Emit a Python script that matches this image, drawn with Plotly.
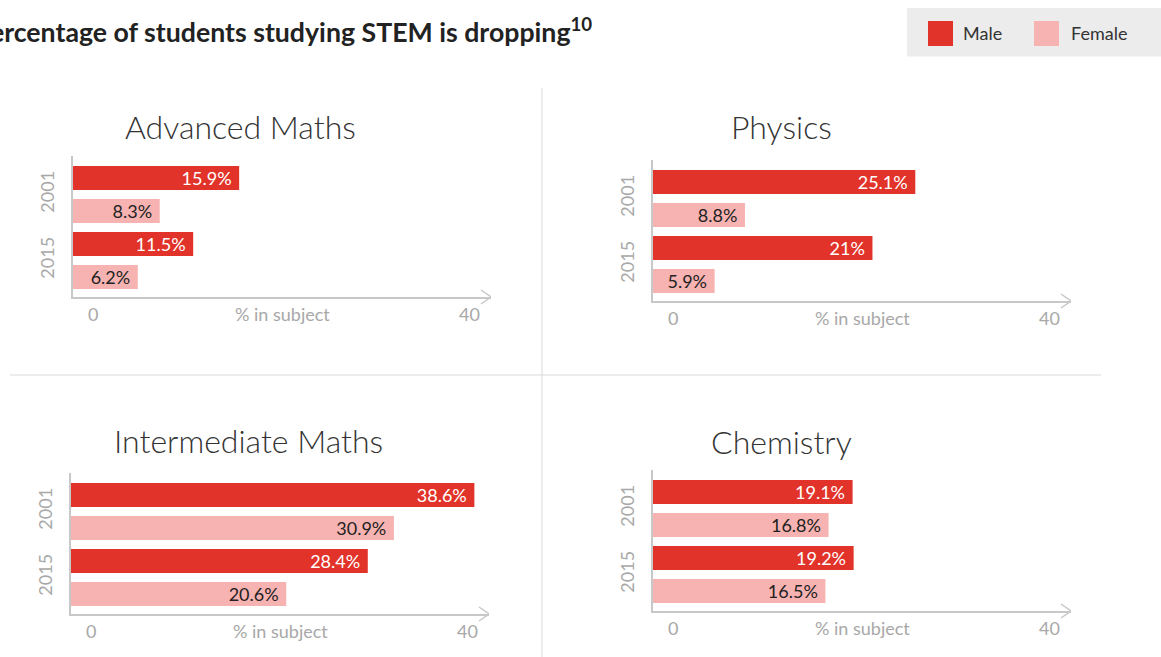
import plotly.graph_objects as go

W, H = 1161, 657

# ---------------- data ----------------
years = ["2001", "2015"]
subjects = ["Advanced Maths", "Physics", "Intermediate Maths", "Chemistry"]
adv_maths_male = [15.9, 11.5]
adv_maths_female = [8.3, 6.2]
physics_male = [25.1, 21]
physics_female = [8.8, 5.9]
int_maths_male = [38.6, 28.4]
int_maths_female = [30.9, 20.6]
chemistry_male = [19.1, 19.2]
chemistry_female = [16.8, 16.5]
x_tick_values = [0, 40]
x_axis_label = "% in subject"
legend_labels = ["Male", "Female"]
title_text = "Percentage of students studying STEM is dropping"
title_note = "10"

male_series = [adv_maths_male, physics_male, int_maths_male, chemistry_male]
female_series = [adv_maths_female, physics_female, int_maths_female, chemistry_female]

# ---------------- style ----------------
MALE = "#e2332a"
FEMALE = "#f7b3b1"
AXIS = "#c8c8c8"
GREY_TXT = "#a8a8a8"
DARK = "#333333"
FONT = "Lato"

# panel placement in pixels: (axis origin x, top of first bar, title cx, title cy)
panels = [
    (73, 166, 240, 127),
    (653, 170, 781, 127),
    (71, 483, 248, 440),
    (653, 480, 781, 441),
]
AXIS_LEN = 418  # px for 0..40


def px(x):
    return x / W


def py(y):
    return 1 - y / H


fig = go.Figure()
annotations = []
shapes = []

for i, (subj, m, f, (x0, btop, tcx, tcy)) in enumerate(
    zip(subjects, male_series, female_series, panels)
):
    n = "" if i == 0 else str(i + 1)
    xa, ya = "x" + n, "y" + n
    fig.add_trace(go.Bar(
        y=years, x=m, orientation="h", name=legend_labels[0],
        marker=dict(color=MALE, line=dict(width=0)),
        text=[f"{v:g}%\u00a0" for v in m], textposition="inside",
        insidetextanchor="end", constraintext="none",
        insidetextfont=dict(family=FONT, size=18, color="white"),
        xaxis=xa, yaxis=ya, showlegend=False, hoverinfo="skip",
    ))
    fig.add_trace(go.Bar(
        y=years, x=f, orientation="h", name=legend_labels[1],
        marker=dict(color=FEMALE, line=dict(width=0)),
        text=[f"{v:g}%\u00a0" for v in f], textposition="inside",
        insidetextanchor="end", constraintext="none",
        insidetextfont=dict(family=FONT, size=18, color="#222222"),
        xaxis=xa, yaxis=ya, showlegend=False, hoverinfo="skip",
    ))
    top = btop - 10
    bot = btop + 131
    xdom = [px(x0), px(x0 + AXIS_LEN)]
    ydom = [py(bot), py(top)]
    fig.update_layout(**{
        ("xaxis" + n): dict(
            domain=xdom, anchor=ya, range=[0, 40], showgrid=False,
            zeroline=False, showline=True, linecolor=AXIS, linewidth=1.5,
            showticklabels=False, ticks="", fixedrange=True,
        ),
        ("yaxis" + n): dict(
            domain=ydom, anchor=xa, type="category", categoryorder="array",
            categoryarray=years, range=[1.553, -0.5833], autorange=False,
            showgrid=False, zeroline=False, showline=True, linecolor=AXIS,
            linewidth=1.5, ticks="", tickangle=-90, ticklabelstandoff=10,
            tickfont=dict(family=FONT, size=18, color=GREY_TXT), fixedrange=True,
        ),
    })
    # arrow head at the end of the x axis
    shapes.append(dict(
        type="path", xref=xa, yref=ya + " domain", xsizemode="pixel",
        ysizemode="pixel", xanchor=40, yanchor=0,
        path="M -10,-7 L 0,0 L -10,7", line=dict(color=AXIS, width=1.5),
    ))
    # x axis tick labels and title
    annotations.append(dict(
        x=x_tick_values[0], y=0, xref=xa, yref=ya + " domain", text=str(x_tick_values[0]),
        showarrow=False, xanchor="center", yanchor="middle", xshift=20, yshift=-17,
        font=dict(family=FONT, size=18, color=GREY_TXT),
    ))
    annotations.append(dict(
        x=x_tick_values[1], y=0, xref=xa, yref=ya + " domain", text=str(x_tick_values[1]),
        showarrow=False, xanchor="center", yanchor="middle", xshift=-22, yshift=-17,
        font=dict(family=FONT, size=18, color=GREY_TXT),
    ))
    annotations.append(dict(
        x=sum(x_tick_values) / 2, y=0, xref=xa, yref=ya + " domain", text=x_axis_label,
        showarrow=False, xanchor="center", yanchor="middle", yshift=-17,
        font=dict(family=FONT, size=18, color=GREY_TXT),
    ))
    # panel title
    annotations.append(dict(
        x=px(tcx), y=py(tcy), xref="paper", yref="paper", text=subj,
        showarrow=False, xanchor="center", yanchor="middle",
        font=dict(family=FONT, size=32, color=DARK, weight=300),
    ))

# divider lines
shapes.append(dict(type="line", xref="paper", yref="paper", x0=px(542), x1=px(542),
                   y0=py(88), y1=0, line=dict(color="#d9d9d9", width=1)))
shapes.append(dict(type="line", xref="paper", yref="paper", x0=px(10), x1=px(1101),
                   y0=py(375), y1=py(375), line=dict(color="#d9d9d9", width=1)))

# legend box
shapes.append(dict(type="rect", xref="paper", yref="paper", x0=px(907), x1=px(1161),
                   y0=py(56.5), y1=py(8), fillcolor="#ececec", line=dict(width=0), layer="below"))
for (sx, tx, col, lab) in [(928, 961, MALE, legend_labels[0]), (1034, 1069, FEMALE, legend_labels[1])]:
    shapes.append(dict(type="rect", xref="paper", yref="paper", x0=px(sx), x1=px(sx + 25),
                       y0=py(46), y1=py(21), fillcolor=col, line=dict(width=0)))
    annotations.append(dict(x=px(tx), y=py(33), xref="paper", yref="paper", text=lab,
                            showarrow=False, xanchor="left", yanchor="middle",
                            font=dict(family=FONT, size=18, color=DARK)))

# main title (left part cut off by the page edge, as in the original)
annotations.append(dict(
    x=px(594), y=py(31), xref="paper", yref="paper",
    text=f"{title_text}<sup>{title_note}</sup>", showarrow=False,
    xanchor="right", yanchor="middle",
    font=dict(family=FONT, size=26.7, color="#222222", weight="bold"),
))

fig.update_layout(
    width=W, height=H, margin=dict(l=0, r=0, t=0, b=0),
    paper_bgcolor="white", plot_bgcolor="white",
    barmode="group", bargap=0, bargroupgap=0.2727,
    shapes=shapes, annotations=annotations, showlegend=False,
)

fig.write_html(
    "out.html",
    config={"displayModeBar": False},
    post_script="document.body.style.margin='0';document.body.style.overflow='hidden';",
)
